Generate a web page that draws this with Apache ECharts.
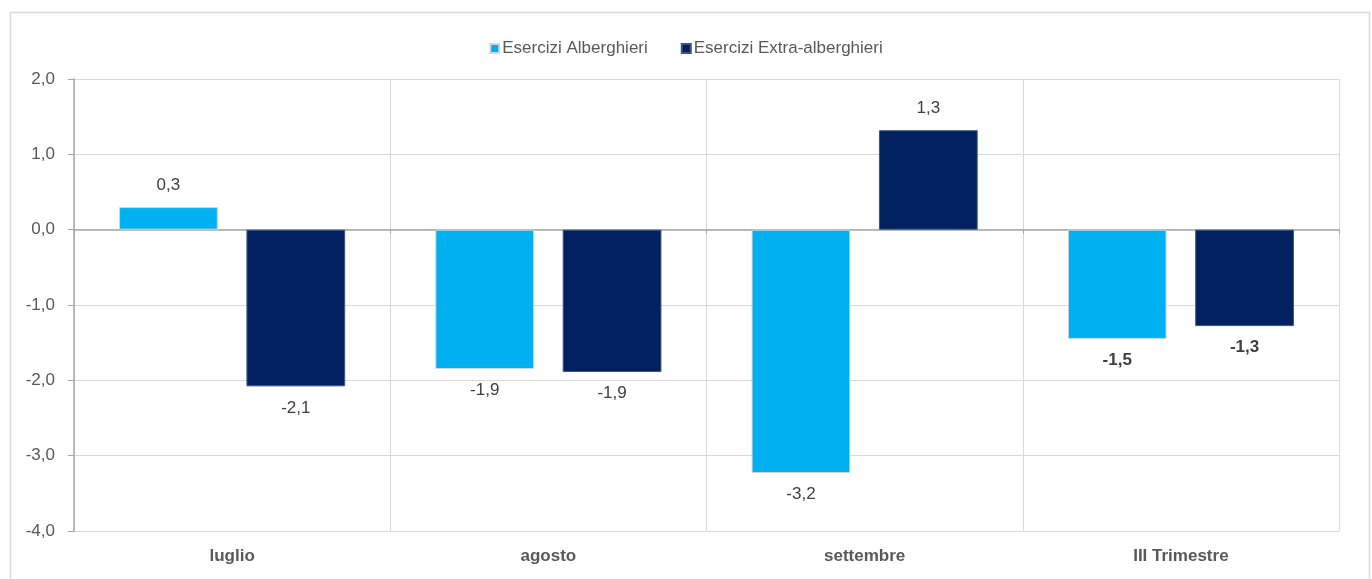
<!DOCTYPE html>
<html>
<head>
<meta charset="utf-8">
<script src="https://cdn.jsdelivr.net/npm/echarts@6/dist/echarts.min.js"></script>
<style>
html,body{margin:0;padding:0;background:#fff;}
#chart{width:1372px;height:579px;}
</style>
</head>
<body>
<div id="chart"></div>
<script>
const categories = ['luglio', 'agosto', 'settembre', 'III Trimestre'];
const seriesNames = ['Esercizi Alberghieri', 'Esercizi Extra-alberghieri'];
const alberghieri = [0.3, -1.85, -3.23, -1.45];
const extraAlberghieri = [-2.08, -1.89, 1.32, -1.28];
const labelAlberghieri = [0.3, -1.9, -3.2, -1.5];
const labelExtra = [-2.1, -1.9, 1.3, -1.3];
const boldCategories = ['III Trimestre'];

const FONT = '"Liberation Sans", Arial, sans-serif';
const fmt = v => v.toFixed(1).replace('.', ',');

function buildData(values, labels) {
  return values.map((v, i) => ({
    value: v,
    label: {
      position: v < 0 ? 'bottom' : 'top',
      fontWeight: boldCategories.includes(categories[i]) ? 'bold' : 'normal',
      formatter: () => fmt(labels[i])
    }
  }));
}

const chart = echarts.init(document.getElementById('chart'), null, {renderer: 'canvas'});
chart.setOption({
  animation: false,
  backgroundColor: '#ffffff',
  textStyle: {fontFamily: FONT},
  graphic: [{
    type: 'rect', left: 8, top: 10, z: -10,
    shape: {width: 1359, height: 580},
    style: {fill: 'none', stroke: '#d9d9d9', lineWidth: 1.5}
  }],
  legend: {
    top: 35, left: 'center',
    itemWidth: 9, itemHeight: 9, itemGap: 33,
    icon: 'rect',
    textStyle: {fontFamily: FONT, fontSize: 17, color: '#595959', padding: [0, 0, 0, -2]},
    data: seriesNames
  },
  grid: {left: 74, right: 33, top: 79, bottom: 48, containLabel: false},
  xAxis: [{
    type: 'category', data: categories,
    axisLine: {show: false, onZero: false},
    axisTick: {show: false},
    axisLabel: {fontFamily: FONT, fontSize: 17, fontWeight: 'bold', color: '#595959', margin: 17},
    splitLine: {show: true, lineStyle: {color: '#d9d9d9', width: 1}}
  }, {
    type: 'category', data: categories, position: 'bottom',
    axisLine: {show: true, onZero: true, lineStyle: {color: '#a6a6a6', width: 1.5}},
    axisTick: {show: true, length: 4, lineStyle: {color: '#a6a6a6'}},
    axisLabel: {show: false},
    splitLine: {show: false}
  }],
  yAxis: {
    type: 'value', min: -4, max: 2, interval: 1,
    axisLine: {show: true, lineStyle: {color: '#a6a6a6', width: 1.5}},
    axisTick: {show: true, length: 6, lineStyle: {color: '#a6a6a6'}},
    axisLabel: {fontFamily: FONT, fontSize: 17, color: '#595959', margin: 19, formatter: v => fmt(v)},
    splitLine: {show: true, lineStyle: {color: '#d9d9d9', width: 1}}
  },
  series: [{
    name: seriesNames[0], type: 'bar', xAxisIndex: 0,
    barCategoryGap: '28.5%', barGap: '29%',
    itemStyle: {color: '#00B0F0', borderColor: '#d0d8dc', borderWidth: 1},
    label: {show: true, distance: 13, fontFamily: FONT, fontSize: 17, color: '#404040'},
    data: buildData(alberghieri, labelAlberghieri)
  }, {
    name: seriesNames[1], type: 'bar', xAxisIndex: 0,
    barCategoryGap: '28.5%', barGap: '29%',
    itemStyle: {color: '#002060', borderColor: '#3a5586', borderWidth: 1},
    label: {show: true, distance: 13, fontFamily: FONT, fontSize: 17, color: '#404040'},
    data: buildData(extraAlberghieri, labelExtra)
  }]
});
</script>
</body>
</html>
